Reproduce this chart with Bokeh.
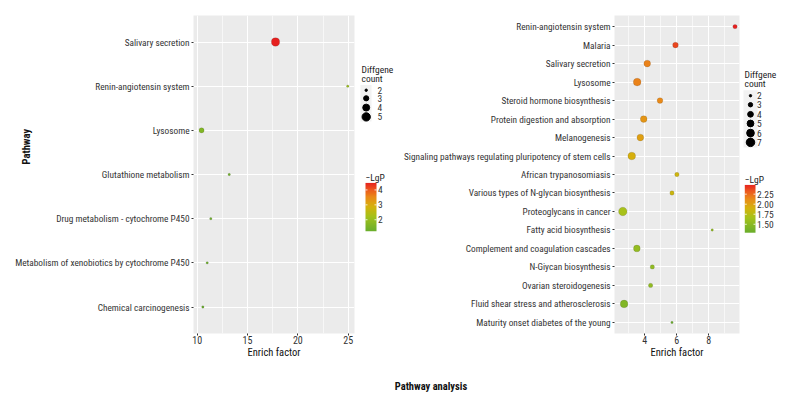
import numpy as np
from bokeh.plotting import figure
from bokeh.models import (Range1d, FixedTicker, LinearColorMapper, ColumnDataSource)
from bokeh.layouts import row, column
from bokeh.embed import file_html
from bokeh.resources import INLINE
from bokeh.core.properties import value

# ---------------- data ----------------
left_pathways = ["Salivary secretion", "Renin-angiotensin system", "Lysosome",
                 "Glutathione metabolism", "Drug metabolism - cytochrome P450",
                 "Metabolism of xenobiotics by cytochrome P450", "Chemical carcinogenesis"]
left_enrich = [17.78, 24.96, 10.43, 13.18, 11.35, 10.99, 10.56]
left_count = [5, 2, 3, 2, 2, 2, 2]
left_lgp = [4.47, 2.05, 1.62, 1.35, 1.30, 1.27, 1.23]
left_xticks = [10, 15, 20, 25]
left_size_breaks = [2, 3, 4, 5]
left_color_ticks = [2, 3, 4]

right_pathways = ["Renin-angiotensin system", "Malaria", "Salivary secretion", "Lysosome",
                  "Steroid hormone biosynthesis", "Protein digestion and absorption",
                  "Melanogenesis", "Signaling pathways regulating pluripotency of stem cells",
                  "African trypanosomiasis", "Various types of N-glycan biosynthesis",
                  "Proteoglycans in cancer", "Fatty acid biosynthesis",
                  "Complement and coagulation cascades", "N-Giycan biosynthesis",
                  "Ovarian steroidogenesis", "Fluid shear stress and atherosclerosis",
                  "Maturity onset diabetes of the young"]
right_enrich = [9.65, 5.92, 4.15, 3.52, 4.95, 3.93, 3.72, 3.18, 6.01, 5.70,
                2.62, 8.22, 3.50, 4.47, 4.36, 2.70, 5.70]
right_count = [3, 4, 5, 6, 4, 5, 5, 6, 3, 3, 7, 2, 5, 3, 3, 6, 2]
right_lgp = [2.48, 2.36, 2.15, 2.15, 2.12, 2.06, 2.00, 1.91, 1.86, 1.84,
             1.67, 1.53, 1.55, 1.53, 1.53, 1.43, 1.29]
right_xticks = [4, 6, 8]
right_size_breaks = [2, 3, 4, 5, 6, 7]
right_color_ticks = [1.50, 1.75, 2.00, 2.25]

# ---------------- style ----------------
FONT = "Roboto Condensed"
H = 366
anchors = [(0.0, "#6BAE2C"), (0.3, "#A4C21B"), (0.5, "#D4B30C"),
           (0.7, "#EA8A18"), (0.85, "#EC5A1E"), (1.0, "#E6201F")]


def make_palette(n=256):
    pos = [a[0] for a in anchors]
    rgb = np.array([[int(c[i:i + 2], 16) for i in (1, 3, 5)] for _, c in anchors], float)
    out = []
    for v in np.linspace(0, 1, n):
        r, g, b = (np.interp(v, pos, rgb[:, k]) for k in range(3))
        out.append("#%02x%02x%02x" % (int(round(r)), int(round(g)), int(round(b))))
    return out


PALETTE = make_palette()


def size_scale(counts, cmin, cmax, dmin, dmax):
    c = np.asarray(counts, float)
    f = (c - cmin) / (cmax - cmin)
    return np.sqrt(dmin ** 2 + f * (dmax ** 2 - dmin ** 2))


def main_fig(pathways, enrich, count, lgp, xr, xticks, minor, width, bl, dmax):
    n = len(pathways)
    ys = [n - 1 - i for i in range(n)]
    mapper = LinearColorMapper(palette=PALETTE, low=min(lgp), high=max(lgp))
    p = figure(width=width, height=H, x_range=Range1d(*xr), y_range=Range1d(-0.6, n - 1 + 0.6),
               output_backend="svg", toolbar_location=None,
               min_border_left=bl, min_border_right=1, min_border_top=15, min_border_bottom=33)
    p.background_fill_color = "#EBEBEB"
    p.border_fill_color = "white"
    p.outline_line_color = None
    src = ColumnDataSource(dict(x=enrich, y=ys, lgp=lgp,
                                s=size_scale(count, min(count), max(count), 2.4, dmax)))
    p.scatter("x", "y", size="s", source=src,
              fill_color={"field": "lgp", "transform": mapper},
              line_color="#333333", line_alpha=0.25, line_width=0.6)
    xt = FixedTicker(ticks=xticks, minor_ticks=minor)
    p.xaxis.ticker = xt
    p.xgrid.ticker = xt
    p.yaxis.ticker = FixedTicker(ticks=ys)
    p.ygrid.ticker = FixedTicker(ticks=ys)
    p.yaxis.major_label_overrides = {y: name for y, name in zip(ys, pathways)}
    for g in (p.xgrid, p.ygrid):
        g.grid_line_color = "white"
        g.grid_line_width = 1.1
    p.xgrid.minor_grid_line_color = "white"
    p.xgrid.minor_grid_line_width = 0.6
    for ax in (p.xaxis, p.yaxis):
        ax.axis_line_color = None
        ax.major_tick_line_color = "#333333"
        ax.major_tick_in = 0
        ax.major_tick_out = 2
        ax.minor_tick_out = 0
        ax.minor_tick_in = 0
        ax.major_label_text_font = FONT
        ax.major_label_text_color = "#333333"
    p.yaxis.major_label_text_font_size = "9.3px"
    p.yaxis.major_label_standoff = 2
    p.xaxis.major_label_text_font_size = "10px"
    p.xaxis.major_label_standoff = 0
    p.xaxis.axis_label = "Enrich factor"
    p.xaxis.axis_label_text_font = FONT
    p.xaxis.axis_label_text_font_style = "normal"
    p.xaxis.axis_label_text_font_size = "10.5px"
    p.xaxis.axis_label_text_color = "#111111"
    p.xaxis.axis_label_standoff = -1
    return p, mapper


def legend_fig(width, x0, mapper, breaks, cmin, cmax, dmax, title_py, dots_py, dot_px, bg,
               cb_title_py, bar_x, bar_top, bar_bot, lab_px, cticks, fmt):
    # legend panel: x in pixels from the page left, y in pixels from the page top
    p = figure(width=width, height=H, x_range=Range1d(0, width), y_range=Range1d(0, H),
               output_backend="svg", toolbar_location=None,
               min_border_left=0, min_border_right=0, min_border_top=0, min_border_bottom=0)
    p.axis.visible = False
    p.grid.visible = False
    p.outline_line_color = None
    p.background_fill_color = None
    Y = lambda v: H - np.asarray(v, float)
    X = lambda v: np.asarray(v, float) - x0
    # size legend
    p.quad(left=[X(bg[0])], right=[X(bg[1])], top=[Y(bg[2])], bottom=[Y(bg[3])],
           fill_color="#F2F2F2", line_color=None)
    p.text(x=[X(bg[0]) + 1] * 2, y=Y([title_py, title_py + 10.6]), text=["Diffgene", "count"],
           text_font=value(FONT), text_font_size="9.5px", text_baseline="middle",
           text_color="#222222")
    p.scatter(x=[X(dot_px)] * len(breaks), y=Y(dots_py),
              size=size_scale(breaks, cmin, cmax, 2.4, dmax), color="black")
    p.text(x=[X(lab_px)] * len(breaks), y=Y(dots_py), text=[str(b) for b in breaks],
           text_font=value(FONT), text_font_size="9.5px", text_baseline="middle",
           text_color="#333333")
    # colour bar drawn with the same colour mapper
    low, high = mapper.low, mapper.high
    grad = np.linspace(low, high, 200).reshape(-1, 1)
    bw = bar_x[1] - bar_x[0]
    bh = bar_bot - bar_top
    p.image(image=[grad], x=X(bar_x[0]), y=Y(bar_bot), dw=bw, dh=bh, color_mapper=mapper)
    ty = Y(bar_bot) + (np.asarray(cticks, float) - low) / (high - low) * bh
    xl = X(bar_x[0]); xr = X(bar_x[1])
    p.segment(x0=[xl] * len(cticks), x1=[xl + 2] * len(cticks), y0=ty, y1=ty,
              line_color="white", line_width=0.8)
    p.segment(x0=[xr - 2] * len(cticks), x1=[xr] * len(cticks), y0=ty, y1=ty,
              line_color="white", line_width=0.8)
    p.text(x=[xr + 1.5] * len(cticks), y=ty, text=[fmt % t for t in cticks],
           text_font=value(FONT), text_font_size="9.5px", text_baseline="middle",
           text_color="#333333")
    p.text(x=[xl], y=Y([cb_title_py]), text=["\u2212LgP"], text_font=value(FONT),
           text_font_size="9.5px", text_baseline="middle", text_color="#222222")
    return p


LX = (9.63, 25.63)
pA, mA = main_fig(left_pathways, left_enrich, left_count, left_lgp, LX,
                  left_xticks, [12.5, 17.5, 22.5], 355, 193, 8.3)
# y title "Pathway": axis title pulled in towards the labels and raised above the frame centre
pA.yaxis.axis_label = "\u00a0" * 23 + "Pathway"
pA.yaxis.axis_label_text_font = FONT
pA.yaxis.axis_label_text_font_size = "10.5px"
pA.yaxis.axis_label_text_font_style = "bold"
pA.yaxis.axis_label_text_color = "#111111"
pA.yaxis.axis_label_standoff = -21

pB = legend_fig(45, 355, mA, left_size_breaks, 2, 5, 8.3, 62, [86, 95.3, 106, 116.7], 365.7,
                (360, 371, 80, 122), 186.7, (365, 376), 192.7, 248.3, 377, left_color_ticks, "%d")

pC, mC = main_fig(right_pathways, right_enrich, right_count, right_lgp, (2.1, 9.93),
                  right_xticks, [3, 5, 7, 9], 340, 200, 8.5)
pD = legend_fig(52, 740, mC, right_size_breaks, 2, 7, 8.5, 67.7,
                [92.3, 102.7, 113.7, 124.3, 135.3, 146], 750, (743, 757, 86, 152),
                188.3, (744.3, 755), 195, 250, 756.5, right_color_ticks, "%.2f")

HE = 42
pE = figure(width=792, height=HE, x_range=Range1d(0, 792), y_range=Range1d(0, HE),
            output_backend="svg", toolbar_location=None,
            min_border_left=0, min_border_right=0, min_border_top=0, min_border_bottom=0)
pE.axis.visible = False
pE.grid.visible = False
pE.outline_line_color = None
pE.text(x=[430.5], y=[HE - (385.7 - H)], text=["Pathway analysis"], text_font=value(FONT),
        text_font_size="10.5px", text_font_style="bold", text_align="center",
        text_baseline="middle", text_color="#111111")

layout = column(row(pA, pB, pC, pD, spacing=0), pE, spacing=0)
open("out.html", "w").write(file_html(layout, INLINE))
